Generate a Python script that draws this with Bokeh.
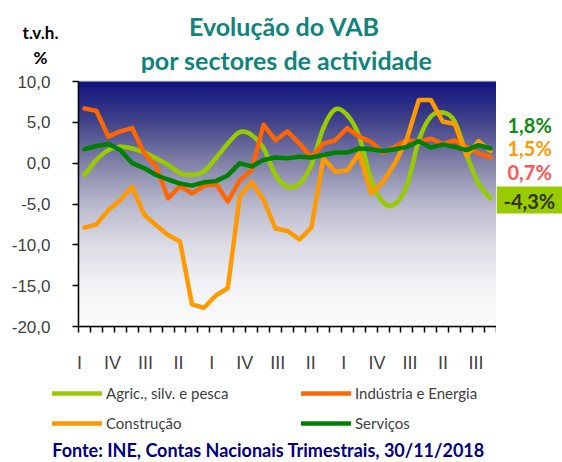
import numpy as np
from bokeh.plotting import figure
from bokeh.layouts import column, row
from bokeh.models import Range1d, LinearAxis, FixedTicker, Legend, LegendItem
from bokeh.core.properties import value
from bokeh.embed import file_html
from bokeh.resources import INLINE

# ---------------- data (t.v.h. %, 2010 Q1 .. 2018 Q3) ----------------
quarters = [f"{y} {q}" for y in range(2010, 2019) for q in ["I", "II", "III", "IV"]][:35]
agric = [-1.45, 0.4, 1.6, 2.0, 1.8, 1.3, 0.6, -0.2, -1.2, -1.45, -1.0, 0.6, 2.4, 3.8,
         3.45, 1.8, -1.45, -2.9, -2.5, -0.2, 4.3, 6.6, 5.9, 3.3, -2.0, -4.8, -5.0, -2.7,
         2.8, 5.7, 6.2, 5.1, 1.0, -2.5, -4.3]
industria = [6.7, 6.4, 3.25, 3.9, 4.3, 1.2, -0.4, -4.3, -2.8, -3.7, -2.8, -2.5, -4.7, -2.1,
             -0.85, 4.7, 2.8, 3.9, 2.4, 0.7, 2.4, 2.8, 4.3, 3.25, 2.6, 1.3, 2.0, 2.8,
             2.6, 3.0, 2.35, 2.8, 2.0, 1.2, 0.7]
construcao = [-7.9, -7.5, -5.75, -4.5, -2.9, -6.3, -7.6, -8.8, -9.6, -17.3, -17.7, -16.2,
              -15.3, -4.1, -2.3, -4.5, -8.0, -8.3, -9.35, -7.9, 0.6, -1.05, -0.9, 1.2,
              -3.7, -2.3, 0.0, 3.0, 7.75, 7.75, 5.1, 4.8, 0.9, 2.7, 1.5]
servicos = [1.7, 2.1, 2.35, 1.6, 0.0, -0.6, -1.45, -2.0, -2.5, -2.75, -2.35, -2.2, -1.5,
            0.0, -0.4, 0.4, 0.7, 0.6, 0.8, 0.7, 1.0, 1.3, 1.3, 1.8, 1.7, 1.5, 1.7, 2.0,
            2.7, 1.9, 2.3, 2.0, 1.6, 2.2, 1.8]
series_names = ["Agric., silv. e pesca", "Indústria e Energia", "Construção", "Serviços"]
series_colors = ["#99cc00", "#ff6600", "#ff9900", "#008000"]
axis_labels = ["I", "IV", "III", "II", "I", "IV", "III", "II", "I", "IV", "III", "II", "III"]
y_ticks = [-20, -15, -10, -5, 0, 5, 10]
y_tick_labels = ["-20,0", "-15,0", "-10,0", "-5,0", "0,0", "5,0", "10,0"]
end_labels = ["1,8%", "1,5%", "0,7%", "-4,3%"]
end_colors = ["#118a11", "#ff9900", "#ff5555", "#333300"]
title_lines = ["Evolução do VAB", "por sectores de actividade"]
unit_lines = ["t.v.h.", "%"]
source_text = "Fonte: INE, Contas Nacionais Trimestrais, 30/11/2018"

n = len(quarters)
xs = list(range(n))
all_series = [agric, industria, construcao, servicos]

PAGE_W, PAGE_H = 562, 462
TOP_H = 73                  # title strip
MAIN_W, MAIN_H = 496, 302   # chart
RIGHT_W = PAGE_W - MAIN_W   # end-value strip
BOT_Y = TOP_H + MAIN_H      # legend / source strip starts here
BOT_H = PAGE_H - BOT_Y
FRAME_TOP, FRAME_BOT = TOP_H + 8, TOP_H + MAIN_H - 49

def blank(w, h, xr, yr):
    f = figure(width=w, height=h, output_backend="svg", toolbar_location=None,
               x_range=Range1d(*xr), y_range=Range1d(*yr),
               x_axis_type=None, y_axis_type=None, min_border=0,
               background_fill_color="white", border_fill_color="white")
    f.outline_line_color = None
    f.grid.visible = False
    return f

# ---------- title strip (page pixel coordinates) ----------
top = blank(PAGE_W, TOP_H, (0, PAGE_W), (TOP_H, 0))
top.text(x=[284, 286], y=[25, 59], text=title_lines, text_font=value("Lato"),
         text_font_size="25px", text_font_style="bold", text_color="#11837d",
         text_align="center", text_baseline="middle")
top.text(x=[40, 40], y=[32, 57], text=unit_lines, text_font=value("Lato"),
         text_font_size="17px", text_font_style="bold", text_color="black",
         text_align="center", text_baseline="middle")

# ---------- main chart ----------
p = figure(width=MAIN_W, height=MAIN_H, output_backend="svg", toolbar_location=None,
           x_range=Range1d(-0.5, n - 0.5), y_range=Range1d(-20, 10),
           min_border_left=78, min_border_right=0, min_border_top=8,
           min_border_bottom=49, background_fill_color="white",
           border_fill_color="white")
p.outline_line_color = "#a6a6a6"
p.outline_line_width = 1.5

# background gradient
stops_t = [0.0, 0.167, 0.333, 0.5, 0.667, 0.833, 1.0]
stops_c = [(16, 20, 125), (66, 68, 138), (130, 130, 168), (184, 184, 204),
           (220, 220, 230), (242, 242, 246), (253, 253, 254)]
N = 300
img = np.empty((N, 1), dtype=np.uint32)
view = img.view(dtype=np.uint8).reshape((N, 1, 4))
for j in range(N):
    t = 1 - (j + 0.5) / N
    for c in range(3):
        view[j, 0, c] = int(round(np.interp(t, stops_t, [s[c] for s in stops_c])))
    view[j, 0, 3] = 255
p.image_rgba(image=[img], x=-0.5, y=-20, dw=n, dh=30)

# grid
p.xgrid.visible = False
p.ygrid.ticker = FixedTicker(ticks=y_ticks[1:-1])
p.ygrid.grid_line_color = "black"
p.ygrid.grid_line_dash = "4 3"
p.ygrid.grid_line_width = 1.5

# axes
p.yaxis.ticker = FixedTicker(ticks=y_ticks)
p.yaxis.major_label_overrides = {t: l for t, l in zip(y_ticks, y_tick_labels)}
p.yaxis.major_label_text_font = "Liberation Sans"
p.yaxis.major_label_text_font_size = "17px"
p.yaxis.major_label_text_color = "#404040"
p.yaxis.major_label_standoff = 22
p.yaxis.axis_line_color = "black"
p.yaxis.axis_line_width = 1.5
p.yaxis.major_tick_out = 6
p.yaxis.major_tick_in = 0
p.yaxis.major_tick_line_width = 1.5
p.yaxis.minor_tick_line_color = None

# category boundary tick marks (unlabelled -> minor ticks)
p.xaxis.ticker = FixedTicker(ticks=[], minor_ticks=[i - 0.5 for i in range(n + 1)])
p.xaxis.axis_line_color = "black"
p.xaxis.axis_line_width = 1.5
p.xaxis.major_tick_out = 6
p.xaxis.major_tick_in = 0
p.xaxis.minor_tick_out = 6
p.xaxis.minor_tick_in = 0
p.xaxis.minor_tick_line_color = "black"
p.xaxis.minor_tick_line_width = 1.5
p.xaxis.major_label_standoff = 0

p.extra_x_ranges = {"lab": Range1d(-0.03, len(axis_labels) - 1 + 0.62)}
lab_axis = LinearAxis(x_range_name="lab",
                      ticker=FixedTicker(ticks=list(range(len(axis_labels)))),
                      major_label_overrides={i: l for i, l in enumerate(axis_labels)})
lab_axis.axis_line_color = None
lab_axis.major_tick_line_color = None
lab_axis.minor_tick_line_color = None
lab_axis.major_label_text_font = "Liberation Sans"
lab_axis.major_label_text_font_size = "18px"
lab_axis.major_label_text_color = "#404040"
lab_axis.major_label_standoff = 14
p.add_layout(lab_axis, "below")

# series
lw = 4.5
P = np.array(list(zip(xs, agric)), dtype=float)
x0, y0, x1, y1, cx0, cy0, cx1, cy1 = [], [], [], [], [], [], [], []
for k in range(n - 1):
    p0 = P[max(k - 1, 0)]; p1 = P[k]; p2 = P[k + 1]; p3 = P[min(k + 2, n - 1)]
    c1 = p1 + (p2 - p0) / 6.0
    c2 = p2 - (p3 - p1) / 6.0
    x0.append(p1[0]); y0.append(p1[1]); x1.append(p2[0]); y1.append(p2[1])
    cx0.append(c1[0]); cy0.append(c1[1]); cx1.append(c2[0]); cy1.append(c2[1])
p.bezier(x0=x0, y0=y0, x1=x1, y1=y1, cx0=cx0, cy0=cy0, cx1=cx1, cy1=cy1,
         line_color=series_colors[0], line_width=lw, line_cap="round")
for s, c in zip(all_series[1:], series_colors[1:]):
    p.line(xs, s, line_color=c, line_width=lw, line_join="round", line_cap="round")

# ---------- right strip: end-of-series values (page pixel coords of the frame) ----------
right = blank(RIGHT_W, MAIN_H, (MAIN_W, PAGE_W), (FRAME_BOT, FRAME_TOP))
right.quad(left=[MAIN_W], right=[PAGE_W], top=[186], bottom=[213],
           fill_color="#99cc00", line_color=None)
right.text(x=[507, 507, 507, 503], y=[124, 147, 171, 200], text=end_labels,
           text_color=end_colors, text_font=value("Lato"), text_font_size="20px",
           text_font_style="bold", text_align="left", text_baseline="middle")

# ---------- bottom strip: legend and source ----------
bot = blank(PAGE_W, BOT_H, (0, PAGE_W), (PAGE_H, BOT_Y))
# the series themselves (they fall outside this strip's range; used for legend swatches)
leg_r = [bot.line(xs, s, line_color=c, line_width=lw, line_cap="round")
         for s, c in zip(all_series, series_colors)]
order = [0, 2, 1, 3]   # column-major fill -> rows: (Agric, Indústria), (Construção, Serviços)
legend = Legend(items=[LegendItem(label=series_names[i], renderers=[leg_r[i]])
                       for i in order],
                location=(52, PAGE_H - 433), ncols=2,
                glyph_width=50, glyph_height=20, label_height=20, label_width=185,
                label_standoff=4, spacing=10, padding=0, margin=0,
                border_line_color=None, background_fill_alpha=0,
                label_text_font="Lato", label_text_font_size="15px",
                label_text_color="#404040")
bot.add_layout(legend)
bot.text(x=[268], y=[449], text=[source_text], text_font=value("Lato"),
         text_font_size="18px", text_font_style="bold", text_color="#000080",
         text_align="center", text_baseline="middle")

layout = column(top, row(p, right, spacing=0), bot, spacing=0)
open("out.html", "w").write(file_html(layout, INLINE))
